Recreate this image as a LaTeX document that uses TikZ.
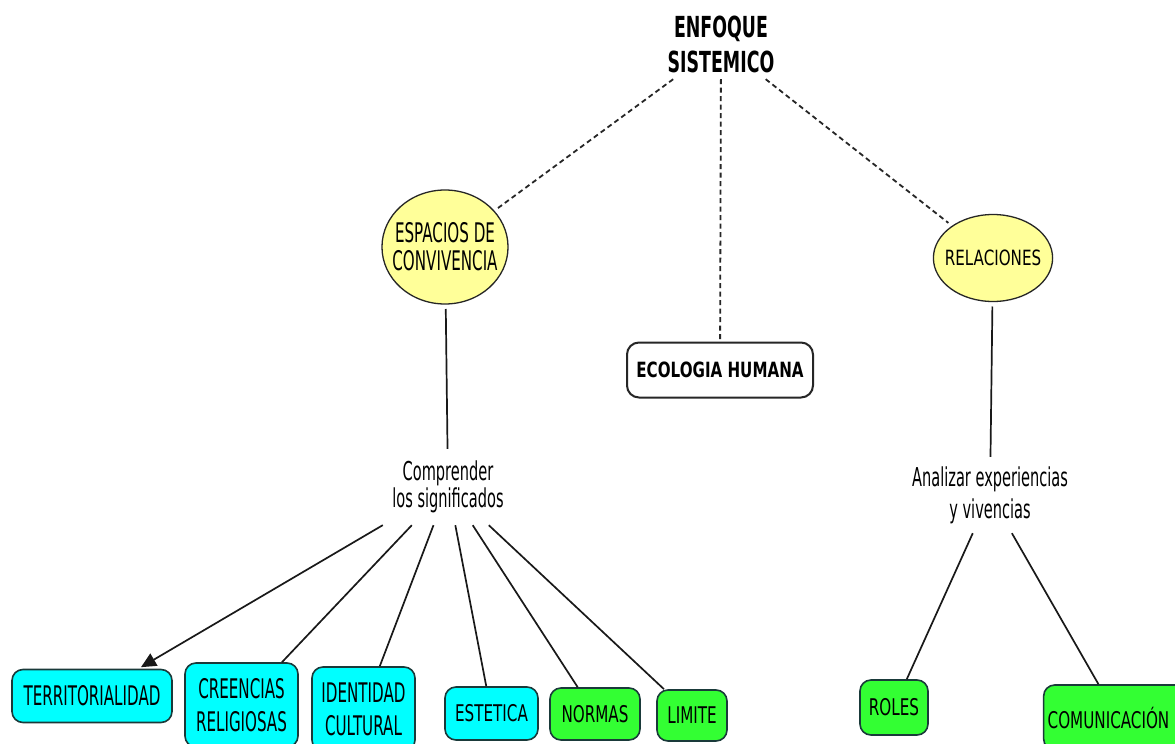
\documentclass[tikz,border=0pt]{standalone}
\usepackage{fontspec}
\setmainfont[FakeStretch=0.56]{DejaVu Sans}
\newfontfamily\fsB[FakeStretch=0.66]{DejaVu Sans}
\newfontfamily\fsC[FakeStretch=0.72]{DejaVu Sans}
\newfontfamily\fsT[FakeStretch=0.6]{DejaVu Sans}
\usetikzlibrary{shapes.geometric,arrows.meta}
\definecolor{ylw}{HTML}{FFFF99}
\definecolor{cyn}{HTML}{00FFFF}
\definecolor{grn}{HTML}{33FF33}
\definecolor{edge}{HTML}{1A3A3A}
\tikzset{
  line/.style={line width=1.7pt, draw=black!90},
  dline/.style={line width=1.8pt, draw=black!85, dash pattern=on 5pt off 3.5pt},
  oval/.style={ellipse, draw=black!85, line width=1.3pt, fill=ylw, inner ysep=0pt, outer sep=5pt, align=center},
  boxc/.style={rectangle, rounded corners=11pt, draw=edge, line width=1.6pt, fill=cyn, align=center, inner sep=0pt},
  boxg/.style={rectangle, rounded corners=11pt, draw=edge, line width=1.6pt, fill=grn, align=center, inner sep=0pt},
  plain/.style={align=center, inner sep=0pt},
  bigf/.style={font=\fontsize{27}{33}\selectfont},
  smallf/.style={font=\fsB\fontsize{23}{33}\selectfont},
}
\begin{document}
\begin{tikzpicture}[x=1pt,y=1pt]
\useasboundingbox (0,0) rectangle (1175,-744);
\clip (0,0) rectangle (1175,-744);
\fill[white] (0,0) rectangle (1175,-744);

% top
\node[plain, minimum width=120, minimum height=70, font=\fsT\bfseries\fontsize{29}{35}\selectfont] (title) at (721,-44) {ENFOQUE\\SISTEMICO};

\node[oval, inner xsep=-8pt, minimum width=126, minimum height=114, font=\fontsize{27}{28}\selectfont] (esp) at (445,-247) {ESPACIOS DE\\CONVIVENCIA};
\node[oval, inner xsep=-6pt, minimum width=117, minimum height=87, font=\fsC\fontsize{21}{25}\selectfont] (rel) at (993,-258) {RELACIONES};
\node[rectangle, rounded corners=12pt, draw=black!85, line width=2pt, fill=white, minimum width=186, minimum height=55, inner sep=0pt, font=\fsC\bfseries\fontsize{21}{25}\selectfont] (eco) at (720,-370) {ECOLOGIA HUMANA};

\node[plain, minimum width=130, minimum height=76, font=\fontsize{26}{27}\selectfont] (comp) at (448,-487) {Comprender\\los significados};
\node[plain, minimum width=160, minimum height=76, font=\fontsize{26}{32}\selectfont] (anal) at (990,-495) {Analizar experiencias\\y vivencias};

% bottom
\node[boxc, bigf, minimum width=160, minimum height=53] (terr) at (92,-696) {TERRITORIALIDAD};
\node[boxc, bigf, minimum width=113, minimum height=84] (cree) at (241.5,-705) {CREENCIAS\\RELIGIOSAS};
\node[boxc, bigf, minimum width=103, minimum height=84] (iden) at (363.5,-709) {IDENTIDAD\\CULTURAL};
\node[boxc, smallf, minimum width=93, minimum height=53] (este) at (491.5,-713.5) {ESTETICA};
\node[boxg, smallf, minimum width=90, minimum height=52] (norm) at (595,-714) {NORMAS};
\node[boxg, smallf, minimum width=70, minimum height=51] (limi) at (692,-715.5) {LIMITE};
\node[boxg, smallf, minimum width=68, minimum height=55] (role) at (894,-707.5) {ROLES};
\node[boxg, smallf, minimum height=65] (comu) at (1117.5,-717.5) {\hspace*{4pt}COMUNICACIÓN\hspace*{22pt}};

% connectors
\draw[dline] (title) -- (esp);
\draw[dline] (title) -- (eco);
\draw[dline] (title) -- (rel);
\draw[line] (esp) -- (comp);
\draw[line] (rel) -- (anal);
\draw[line, -{Triangle[length=15pt,width=14pt]}, shorten >=3pt] (comp) -- (terr);
\draw[line] (comp) -- (cree);
\draw[line] (comp) -- (iden);
\draw[line] (comp) -- (este);
\draw[line] (comp) -- (norm);
\draw[line] (comp) -- (limi);
\draw[line] (anal) -- (role);
\draw[line] (anal) -- (comu);
\end{tikzpicture}
\end{document}
